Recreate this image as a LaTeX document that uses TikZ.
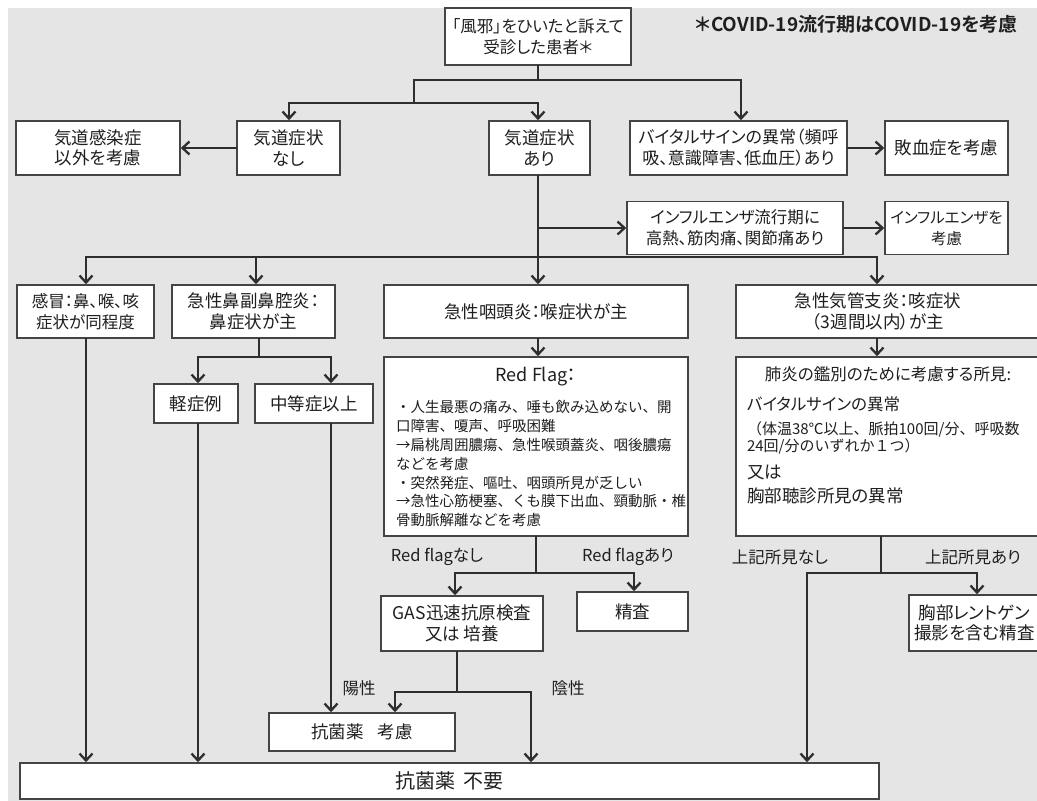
\documentclass[tikz,border=0pt]{standalone}
\usepackage{fontspec}
\setmainfont{Noto Sans CJK JP}[RawFeature=+palt, BoldFont={Noto Sans CJK JP Bold}]
\usetikzlibrary{arrows.meta}
\definecolor{bgc}{HTML}{E5E5E5}
\definecolor{lnc}{HTML}{2E2E2E}
\definecolor{bxc}{HTML}{444444}
\definecolor{txc}{HTML}{1F1F1F}
\newcommand\monow{\addfontfeatures{RawFeature=-palt}}
\begin{document}
\begin{tikzpicture}[x=1pt,y=-1pt,
 box/.style={draw=bxc, line width=1.6pt, fill=white, inner sep=0pt, align=center, text=txc, font=\fontsize{17.5}{20.5}\selectfont},
 lab/.style={text=txc, inner sep=0pt, font=\fontsize{16.5}{20}\selectfont},
 conn/.style={draw=lnc, line width=2.3pt, line cap=rect},
 arr/.style={conn, -{Straight Barb[length=7pt,width=13pt]}},
]
\useasboundingbox (0,0) rectangle (1037,801);
\fill[white] (0,0) rectangle (1037,801);
\fill[bgc] (8,8) rectangle (1037,801);

% nodes
\node[box, minimum width=186pt, minimum height=57pt, font=\fontsize{16.5}{21}\selectfont] (top) at (538,36.5) {「風邪」をひいたと訴えて\\受診した患者＊};
\node[text=txc, inner sep=0pt, font=\bfseries\fontsize{19}{22}\selectfont] (note) at (856.5,24) {＊COVID-19流行期はCOVID-19を考慮};

\node[box, minimum width=164pt, minimum height=54pt] (kansen) at (98,148) {気道感染症\\以外を考慮};
\node[box, minimum width=103pt, minimum height=54pt] (nasi) at (288.5,148) {気道症状\\なし};
\node[box, minimum width=101pt, minimum height=54pt] (ari) at (539.5,148) {気道症状\\あり};
\node[box, minimum width=217pt, minimum height=54pt, font=\fontsize{17}{21}\selectfont] (vital) at (738.5,148) {バイタルサインの異常（頻呼\\吸、意識障害、低血圧）あり};
\node[box, minimum width=123pt, minimum height=54pt] (sepsis) at (946.5,148) {敗血症を考慮};
\node[box, minimum width=216pt, minimum height=53pt, font=\fontsize{16.5}{21}\selectfont] (flu) at (735,228) {インフルエンザ流行期に\\高熱、筋肉痛、関節痛あり};
\node[box, minimum width=123pt, minimum height=53pt, font=\fontsize{15.5}{21}\selectfont] (flu2) at (946.5,228) {インフルエンザを\\考慮};

\node[box, minimum width=137pt, minimum height=53pt, font=\fontsize{16.5}{21}\selectfont] (kanbo) at (85.5,311.5) {感冒：鼻、喉、咳\\症状が同程度};
\node[box, minimum width=163pt, minimum height=53pt] (bien) at (253.5,311.5) {急性鼻副鼻腔炎：\\鼻症状が主};
\node[box, minimum width=304pt, minimum height=53pt] (intou) at (536,311.5) {急性咽頭炎：喉症状が主};
\node[box, minimum width=304pt, minimum height=53pt] (kikan) at (888,311.5) {\parbox{284pt}{\centering 急性気管支炎：咳症状\\（3週間以内）が主}\hspace*{20pt}};

\node[box, minimum width=84pt, minimum height=39pt] (keisho) at (196,403.5) {軽症例};
\node[box, minimum width=118pt, minimum height=39pt] (chuto) at (314,403.5) {中等症以上};

\node[box, minimum width=304pt, minimum height=179pt] (redflag) at (536,446.5) {\parbox[c][179pt][t]{280pt}{%
\vspace*{10.5pt}%
{\centering\fontsize{18}{22}\selectfont Red Flag：\par}%
{\raggedright\fontsize{14.5}{31}\selectfont\monow ・人生最悪の痛み、唾も飲み込めない、開\par}%
{\raggedright\fontsize{14.5}{18.8}\selectfont\monow 口障害、嗄声、呼吸困難\\
→扁桃周囲膿瘍、急性喉頭蓋炎、咽後膿瘍\\
などを考慮\\
・突然発症、嘔吐、咽頭所見が乏しい\\
→急性心筋梗塞、くも膜下出血、頸動脈・椎\\
骨動脈解離などを考慮\par}}};

\node[box, minimum width=304pt, minimum height=179pt] (haien) at (888,446.5) {\parbox[c][179pt][t]{282pt}{%
\vspace*{10pt}%
{\centering\fontsize{16.5}{20}\selectfont 肺炎の鑑別のために考慮する所見:\par}%
{\raggedright\fontsize{16.5}{30}\selectfont バイタルサインの異常\par}%
{\raggedright\fontsize{15}{24}\selectfont\monow （体温38℃以上、脈拍100回/分、呼吸数\par}%
{\raggedright\fontsize{15}{17}\selectfont\monow 24回/分のいずれか１つ）\par}%
{\raggedright\fontsize{17.5}{27}\selectfont 又は\par}%
{\raggedright\fontsize{17.5}{24}\selectfont 胸部聴診所見の異常\par}}};

\node[box, minimum width=162pt, minimum height=55pt] (gas) at (462,623.5) {GAS迅速抗原検査\\又は 培養};
\node[box, minimum width=111pt, minimum height=39pt] (seisa) at (632.5,611.5) {精査};
\node[box, minimum width=131pt, minimum height=56pt] (xray) at (974.5,623) {胸部レントゲン\\撮影を含む精査};
\node[box, minimum width=186pt, minimum height=38pt] (kouken) at (362,732) {抗菌薬\hspace{0.8em}考慮};
\node[box, minimum width=859pt, minimum height=36pt, font=\fontsize{20}{24}\selectfont] (fuyou) at (449.5,781) {抗菌薬\hspace{0.4em}不要};

% labels
\node[lab] (lrfn) at (437,557) {Red flagなし};
\node[lab] (lrfa) at (628,557) {Red flagあり};
\node[lab] (lkn) at (780,557) {上記所見なし};
\node[lab] (lka) at (973,557) {上記所見あり};
\node[lab] (lyo) at (359,688) {陽性};
\node[lab] (lin) at (568,688) {陰性};

% junctions
\coordinate (t1) at (538,80);
\coordinate (t2) at (414,80);
\coordinate (t3) at (741,80);
\coordinate (t4) at (414,103);
\coordinate (t5) at (289,103);
\coordinate (t6) at (538,103);
\coordinate (fl) at (538,228);
\coordinate (m0) at (538,257);
\coordinate (m1) at (86,257);
\coordinate (m2) at (256,257);
\coordinate (m4) at (877,257);
\coordinate (b0) at (259,357);
\coordinate (b1) at (198,357);
\coordinate (b2) at (331,357);
\coordinate (r0) at (536,573);
\coordinate (r1) at (455,573);
\coordinate (r2) at (634,573);
\coordinate (g0) at (457,692);
\coordinate (g1) at (395,692);
\coordinate (g2) at (531,692);
\coordinate (h0) at (881,573);
\coordinate (h1) at (807,573);
\coordinate (h2) at (977,573);

% connectors
\draw[conn] (top.south) -- (t1);
\draw[arr] (t2) -- (t3) -- (t3 |- vital.north);
\draw[conn] (t2) -- (t4);
\draw[arr] (t6) -- (t5) -- (t5 |- nasi.north);
\draw[arr] (t6) -- (t6 |- ari.north);
\draw[arr] (nasi.west) -- (kansen.east);
\draw[arr] (vital.east) -- (sepsis.west);
\draw[conn] (m0 |- ari.south) -- (m0);
\draw[arr] (fl) -- (flu.west);
\draw[arr] (flu.east) -- (flu2.west);
\draw[conn] (m1) -- (m4);
\draw[arr] (m1) -- (m1 |- kanbo.north);
\draw[arr] (m2) -- (m2 |- bien.north);
\draw[arr] (m0) -- (m0 |- intou.north);
\draw[arr] (m4) -- (m4 |- kikan.north);
\draw[conn] (b0 |- bien.south) -- (b0);
\draw[conn] (b1) -- (b2);
\draw[arr] (b1) -- (b1 |- keisho.north);
\draw[arr] (b2) -- (b2 |- chuto.north);
\draw[arr] (kanbo.south -| m1) -- (m1 |- fuyou.north);
\draw[arr] (keisho.south -| b1) -- (b1 |- fuyou.north);
\draw[arr] (chuto.south -| b2) -- (b2 |- kouken.north);
\draw[arr] (intou.south -| m0) -- (m0 |- redflag.north);
\draw[conn] (redflag.south -| r0) -- (r0);
\draw[conn] (r1) -- (r2);
\draw[arr] (r1) -- (r1 |- gas.north);
\draw[arr] (r2) -- (r2 |- seisa.north);
\draw[conn] (gas.south -| g0) -- (g0);
\draw[conn] (g1) -- (g2);
\draw[arr] (g1) -- (g1 |- kouken.north);
\draw[arr] (g2) -- (g2 |- fuyou.north);
\draw[arr] (kikan.south -| m4) -- (m4 |- haien.north);
\draw[conn] (haien.south -| h0) -- (h0);
\draw[conn] (h1) -- (h2);
\draw[arr] (h2) -- (h2 |- xray.north);
\draw[arr] (h1) -- (h1 |- fuyou.north);
\end{tikzpicture}
\end{document}
